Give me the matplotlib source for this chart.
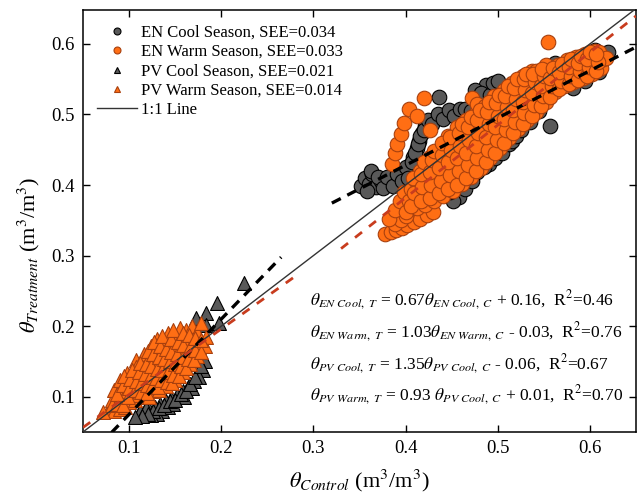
import numpy as np
import matplotlib
matplotlib.use("Agg")
import matplotlib.pyplot as plt
from matplotlib.lines import Line2D

plt.rcParams['font.family'] = ['Liberation Serif', 'DejaVu Serif']
plt.rcParams['mathtext.fontset'] = 'stix'

# EN warm season (orange circles)
en_warm_x = [0.378, 0.384, 0.390, 0.396, 0.402, 0.409, 0.416, 0.423, 0.430,
             0.388, 0.395, 0.401, 0.382, 0.388, 0.394, 0.398,
             0.385, 0.388, 0.391, 0.395, 0.398, 0.404, 0.412, 0.420, 0.427, 0.472,
             0.400, 0.404, 0.406,
             0.412, 0.414, 0.411, 0.416,
             0.421, 0.423, 0.420, 0.424, 0.426,
             0.431, 0.433, 0.430, 0.434, 0.436,
             0.441, 0.443, 0.440, 0.444, 0.442, 0.446,
             0.451, 0.453, 0.450, 0.454, 0.452, 0.456,
             0.461, 0.463, 0.460, 0.464, 0.462, 0.466,
             0.471, 0.473, 0.470, 0.474, 0.472, 0.476, 0.478,
             0.482, 0.484, 0.480, 0.485, 0.482, 0.486,
             0.492, 0.494, 0.490, 0.495, 0.492, 0.496,
             0.502, 0.504, 0.500, 0.505, 0.502, 0.507,
             0.512, 0.514, 0.510, 0.515, 0.512, 0.516,
             0.522, 0.524, 0.520, 0.525, 0.522, 0.527,
             0.532, 0.534, 0.530, 0.535, 0.532, 0.537,
             0.542, 0.544, 0.540, 0.545, 0.542,
             0.552, 0.554, 0.550, 0.555, 0.552,
             0.562, 0.564, 0.560, 0.565,
             0.572, 0.574, 0.570, 0.575,
             0.582, 0.584, 0.580, 0.585,
             0.592, 0.594, 0.590, 0.595,
             0.602, 0.604, 0.600, 0.605,
             0.612, 0.614, 0.610, 0.618, 0.555,
             # in-between points of the dense band
             0.406, 0.409, 0.408,
             0.417, 0.418, 0.417, 0.420,
             0.426, 0.428, 0.426, 0.429, 0.431,
             0.436, 0.438, 0.436, 0.439, 0.439,
             0.446, 0.448, 0.446, 0.449, 0.448,
             0.456, 0.458, 0.456, 0.459, 0.458, 0.461,
             0.466, 0.468, 0.466, 0.469, 0.468, 0.471,
             0.476, 0.478, 0.476, 0.479, 0.478, 0.481,
             0.487, 0.489, 0.487, 0.490, 0.488, 0.491,
             0.497, 0.499, 0.497, 0.500, 0.498, 0.501,
             0.507, 0.509, 0.507, 0.510, 0.508, 0.511,
             0.517, 0.519, 0.517, 0.520, 0.518, 0.521,
             0.527, 0.529, 0.527, 0.530, 0.528, 0.531,
             0.537, 0.539, 0.537, 0.540, 0.538,
             0.547, 0.549, 0.547, 0.550, 0.548,
             0.557, 0.559, 0.557, 0.560,
             0.567, 0.569, 0.567, 0.570,
             0.577, 0.579, 0.577, 0.580,
             0.587, 0.589, 0.587, 0.590,
             0.597, 0.599, 0.597, 0.600,
             0.607, 0.609, 0.607]
en_warm_y = [0.330, 0.333, 0.336, 0.339, 0.343, 0.347, 0.352, 0.357, 0.362,
             0.345, 0.350, 0.356, 0.352, 0.365, 0.378, 0.390,
             0.430, 0.445, 0.458, 0.472, 0.488, 0.508, 0.498, 0.524, 0.478, 0.524,
             0.362, 0.378, 0.395,
             0.368, 0.386, 0.405, 0.420,
             0.372, 0.390, 0.408, 0.425, 0.440,
             0.378, 0.396, 0.414, 0.432, 0.450,
             0.384, 0.402, 0.420, 0.438, 0.456, 0.470,
             0.392, 0.410, 0.428, 0.446, 0.464, 0.482,
             0.402, 0.420, 0.438, 0.456, 0.474, 0.492,
             0.412, 0.430, 0.448, 0.466, 0.484, 0.502, 0.515,
             0.424, 0.442, 0.460, 0.478, 0.496, 0.512,
             0.438, 0.456, 0.474, 0.492, 0.510, 0.526,
             0.452, 0.470, 0.488, 0.506, 0.522, 0.535,
             0.466, 0.484, 0.500, 0.516, 0.532, 0.545,
             0.480, 0.496, 0.512, 0.528, 0.544, 0.554,
             0.492, 0.508, 0.524, 0.540, 0.554, 0.562,
             0.504, 0.520, 0.536, 0.550, 0.562,
             0.518, 0.532, 0.546, 0.558, 0.570,
             0.532, 0.546, 0.558, 0.570,
             0.540, 0.553, 0.565, 0.577,
             0.546, 0.558, 0.570, 0.582,
             0.552, 0.564, 0.576, 0.586,
             0.558, 0.570, 0.582, 0.590,
             0.566, 0.578, 0.588, 0.580, 0.602,
             0.370, 0.388, 0.410,
             0.378, 0.397, 0.415, 0.432,
             0.382, 0.400, 0.418, 0.436, 0.448,
             0.388, 0.406, 0.424, 0.442, 0.460,
             0.394, 0.414, 0.432, 0.450, 0.468,
             0.400, 0.420, 0.438, 0.456, 0.474, 0.486,
             0.410, 0.428, 0.446, 0.464, 0.482, 0.496,
             0.420, 0.438, 0.456, 0.474, 0.492, 0.506,
             0.432, 0.450, 0.468, 0.486, 0.504, 0.518,
             0.446, 0.464, 0.482, 0.498, 0.516, 0.528,
             0.460, 0.478, 0.494, 0.510, 0.526, 0.540,
             0.474, 0.490, 0.506, 0.522, 0.538, 0.550,
             0.486, 0.502, 0.518, 0.534, 0.550, 0.558,
             0.498, 0.514, 0.530, 0.546, 0.558,
             0.512, 0.526, 0.540, 0.554, 0.565,
             0.525, 0.540, 0.552, 0.566,
             0.536, 0.548, 0.560, 0.572,
             0.543, 0.555, 0.567, 0.578,
             0.549, 0.561, 0.573, 0.583,
             0.555, 0.567, 0.579, 0.588,
             0.562, 0.574, 0.585]

# EN cool season (gray circles)
en_cool_x = [0.352, 0.356, 0.360, 0.364, 0.368, 0.373, 0.378, 0.383, 0.388, 0.393,
             0.398, 0.402, 0.405, 0.408, 0.412, 0.415, 0.418, 0.421, 0.426, 0.432,
             0.438, 0.444, 0.450, 0.456, 0.462, 0.468,
             0.358, 0.362, 0.370, 0.376, 0.380, 0.386, 0.391, 0.396, 0.400, 0.403,
             0.407, 0.410, 0.413, 0.416, 0.420, 0.424, 0.429, 0.435, 0.441, 0.447,
             0.453, 0.459, 0.465, 0.471,
             0.436, 0.487, 0.557,
             0.458, 0.465, 0.472, 0.478, 0.490, 0.462, 0.468, 0.452, 0.448,
             0.485, 0.497, 0.505, 0.512, 0.515, 0.520, 0.525, 0.535, 0.545,
             0.475, 0.482, 0.492, 0.495, 0.500, 0.552, 0.566, 0.573,
             0.582, 0.595, 0.610, 0.605, 0.598, 0.612, 0.562, 0.620]
en_cool_y = [0.398, 0.410, 0.402, 0.415, 0.397, 0.405, 0.400, 0.406, 0.403, 0.410,
             0.412, 0.418, 0.428, 0.440, 0.452, 0.463, 0.474, 0.484, 0.490, 0.494,
             0.498, 0.501, 0.503, 0.504, 0.503, 0.500,
             0.392, 0.420, 0.412, 0.396, 0.412, 0.398, 0.415, 0.405, 0.425, 0.410,
             0.432, 0.446, 0.458, 0.470, 0.478, 0.492, 0.486, 0.500, 0.494, 0.506,
             0.498, 0.508, 0.508, 0.505,
             0.525, 0.542, 0.483,
             0.383, 0.395, 0.405, 0.418, 0.430, 0.405, 0.418, 0.378, 0.390,
             0.425, 0.438, 0.445, 0.458, 0.462, 0.470, 0.478, 0.490, 0.505,
             0.535, 0.530, 0.528, 0.545, 0.548, 0.552, 0.562, 0.542,
             0.538, 0.548, 0.560, 0.592, 0.585, 0.580, 0.573, 0.588]

# PV cool season (gray triangles)
pv_cool_x = [0.173, 0.184, 0.195, 0.184, 0.198, 0.225,
             0.182, 0.180, 0.176, 0.170, 0.164, 0.158, 0.152, 0.146, 0.140, 0.134,
             0.128, 0.122, 0.116, 0.110, 0.136, 0.130, 0.124, 0.142, 0.148, 0.160, 0.168,
             0.112, 0.118, 0.126, 0.132, 0.138, 0.144, 0.150, 0.156, 0.162, 0.166,
             0.172, 0.178, 0.120, 0.114, 0.106]
pv_cool_y = [0.212, 0.219, 0.233, 0.202, 0.205, 0.261,
             0.150, 0.138, 0.128, 0.122, 0.114, 0.108, 0.102, 0.098, 0.094, 0.090,
             0.086, 0.082, 0.078, 0.074, 0.080, 0.076, 0.074, 0.086, 0.090, 0.100, 0.112,
             0.080, 0.084, 0.080, 0.084, 0.088, 0.094, 0.096, 0.104, 0.108, 0.118,
             0.128, 0.144, 0.076, 0.072, 0.071]

# PV warm season (orange triangles)
pv_warm_x = [0.078, 0.084, 0.090, 0.096, 0.082, 0.088, 0.094, 0.100, 0.106,
             0.084, 0.090, 0.097, 0.103, 0.110, 0.116, 0.122,
             0.090, 0.096, 0.102, 0.108, 0.114, 0.120, 0.126, 0.132,
             0.098, 0.104, 0.110, 0.116, 0.122, 0.128, 0.134, 0.140,
             0.108, 0.108, 0.114, 0.120, 0.126, 0.132, 0.138, 0.144, 0.150,
             0.116, 0.122, 0.128, 0.134, 0.140, 0.146, 0.152, 0.158,
             0.124, 0.130, 0.136, 0.142, 0.148, 0.154, 0.160, 0.166,
             0.130, 0.137, 0.144, 0.150, 0.156, 0.162, 0.168, 0.174,
             0.142, 0.150, 0.157, 0.163, 0.170, 0.176, 0.182,
             0.155, 0.162, 0.168, 0.174, 0.178, 0.184,
             0.072, 0.081, 0.087, 0.093, 0.099, 0.087, 0.093, 0.100, 0.106, 0.113, 0.119,
             0.094, 0.101, 0.107, 0.113, 0.119, 0.125, 0.131,
             0.103, 0.111, 0.117, 0.123, 0.129, 0.135, 0.141, 0.147,
             0.112, 0.118, 0.124, 0.130, 0.136, 0.142, 0.148, 0.154,
             0.120, 0.126, 0.132, 0.138, 0.144, 0.150, 0.156, 0.162,
             0.127, 0.134, 0.140, 0.146, 0.152, 0.158, 0.164, 0.170,
             0.136, 0.146, 0.153, 0.159, 0.166, 0.172, 0.178,
             0.148, 0.158, 0.165, 0.172, 0.178]
pv_warm_y = [0.082, 0.080, 0.083, 0.086, 0.095, 0.098, 0.094, 0.092, 0.095,
             0.110, 0.112, 0.106, 0.104, 0.102, 0.100, 0.099,
             0.124, 0.120, 0.118, 0.114, 0.112, 0.110, 0.108, 0.110,
             0.134, 0.130, 0.128, 0.124, 0.122, 0.120, 0.118, 0.115,
             0.152, 0.142, 0.140, 0.137, 0.134, 0.132, 0.130, 0.126, 0.124,
             0.160, 0.155, 0.150, 0.147, 0.144, 0.140, 0.137, 0.135,
             0.172, 0.166, 0.162, 0.158, 0.155, 0.151, 0.148, 0.146,
             0.182, 0.178, 0.174, 0.170, 0.166, 0.162, 0.160, 0.158,
             0.190, 0.186, 0.182, 0.178, 0.174, 0.170, 0.172,
             0.198, 0.194, 0.200, 0.192, 0.205, 0.185,
             0.079, 0.088, 0.090, 0.088, 0.099, 0.104, 0.116, 0.112, 0.109, 0.107, 0.105,
             0.129, 0.125, 0.122, 0.119, 0.117, 0.115, 0.114,
             0.138, 0.135, 0.132, 0.128, 0.126, 0.124, 0.121, 0.120,
             0.148, 0.146, 0.143, 0.140, 0.138, 0.135, 0.131, 0.130,
             0.165, 0.160, 0.156, 0.153, 0.150, 0.146, 0.143, 0.141,
             0.177, 0.172, 0.168, 0.164, 0.160, 0.157, 0.154, 0.152,
             0.186, 0.182, 0.178, 0.174, 0.170, 0.166, 0.164,
             0.194, 0.190, 0.187, 0.183, 0.180]

# fitted lines: slope, intercept, x range
fit_slope = [0.67, 1.03, 1.35, 0.93]
fit_icpt = [0.16, -0.03, -0.06, 0.01]
fit_xrange = [(0.32, 0.65), (0.33, 0.65), (0.081, 0.265), (0.05, 0.28)]
fit_color = ['black', '#c83c1e', 'black', '#c83c1e']

legend_labels = ['EN Cool Season, SEE=0.034', 'EN Warm Season, SEE=0.033',
                 'PV Cool Season, SEE=0.021', 'PV Warm Season, SEE=0.014', '1:1 Line']

eq_lines = [
    r'$\theta_{EN\ Cool,\ T}$ = 0.67$\theta_{EN\ Cool,\ C}$ + 0.16,  R$^2$=0.46',
    r'$\theta_{EN\ Warm,\ T}$ = 1.03$\theta_{EN\ Warm,\ C}$ - 0.03,  R$^2$=0.76',
    r'$\theta_{PV\ Cool,\ T}$ = 1.35$\theta_{PV\ Cool,\ C}$ - 0.06,  R$^2$=0.67',
    r'$\theta_{PV\ Warm,\ T}$ = 0.93 $\theta_{PV\ Cool,\ C}$ + 0.01,  R$^2$=0.70',
]

GRAY = '#595959'
ORANGE = '#ff6e14'
ORANGE_EDGE = '#a8400e'

fig = plt.figure(figsize=(6.37, 5.01), dpi=100)
ax = fig.add_axes([0.1303, 0.1377, 0.8681, 0.8423])

ax.scatter(en_cool_x, en_cool_y, s=110, marker='o', facecolor=GRAY, edgecolor='black', linewidth=0.8, zorder=2)
ax.scatter(en_warm_x, en_warm_y, s=110, marker='o', facecolor=ORANGE, edgecolor=ORANGE_EDGE, linewidth=0.8, zorder=2)
ax.scatter(pv_cool_x, pv_cool_y, s=100, marker='^', facecolor=GRAY, edgecolor='black', linewidth=0.8, zorder=2)
ax.scatter(pv_warm_x, pv_warm_y, s=100, marker='^', facecolor=ORANGE, edgecolor=ORANGE_EDGE, linewidth=0.8, zorder=2)

# 1:1 line
ax.plot([0.05, 0.65], [0.05, 0.65], color='#333333', lw=1.0, zorder=3)

for m, b, (x0, x1), c in zip(fit_slope, fit_icpt, fit_xrange, fit_color):
    xs = np.array([x0, x1])
    if c == 'black':
        ax.plot(xs, m * xs + b, color=c, lw=2.4, dashes=(3, 2.2), zorder=4)
    else:
        ax.plot(xs, m * xs + b, color=c, lw=2.0, dashes=(3.2, 3.2), zorder=4)

ax.set_xlim(0.05, 0.65)
ax.set_ylim(0.05, 0.648)
ax.set_xticks([0.1, 0.2, 0.3, 0.4, 0.5, 0.6])
ax.set_yticks([0.1, 0.2, 0.3, 0.4, 0.5, 0.6])
ax.tick_params(direction='in', length=5, width=1, top=True, right=True, labelsize=13.5, pad=6)
for sp in ax.spines.values():
    sp.set_linewidth(1.1)

ax.set_xlabel(r'$\theta_{Control}$ (m$^3$/m$^3$)', fontsize=16)
ax.set_ylabel(r'$\theta_{Treatment}$ (m$^3$/m$^3$)', fontsize=16)
ax.xaxis.set_label_coords(0.5, -0.085)
ax.yaxis.set_label_coords(-0.075, 0.42)

handles = [
    Line2D([], [], ls='none', marker='o', ms=5, mfc=GRAY, mec='black', mew=0.8),
    Line2D([], [], ls='none', marker='o', ms=5, mfc=ORANGE, mec=ORANGE_EDGE, mew=0.8),
    Line2D([], [], ls='none', marker='^', ms=5, mfc=GRAY, mec='black', mew=0.8),
    Line2D([], [], ls='none', marker='^', ms=5, mfc=ORANGE, mec=ORANGE_EDGE, mew=0.8),
    Line2D([], [], color='#333333', lw=1.0),
]
ax.legend(handles, legend_labels, loc='upper left', bbox_to_anchor=(0.025, 0.965),
          frameon=False, fontsize=12, handlelength=2.4, handletextpad=0.25,
          labelspacing=0.2, borderpad=0, borderaxespad=0)

eq_y = [0.301, 0.225, 0.149, 0.076]
for txt, yy in zip(eq_lines, eq_y):
    ax.text(0.41, yy, txt, transform=ax.transAxes, fontsize=12.5, ha='left', va='baseline')

fig.savefig('out.png', dpi=100)
